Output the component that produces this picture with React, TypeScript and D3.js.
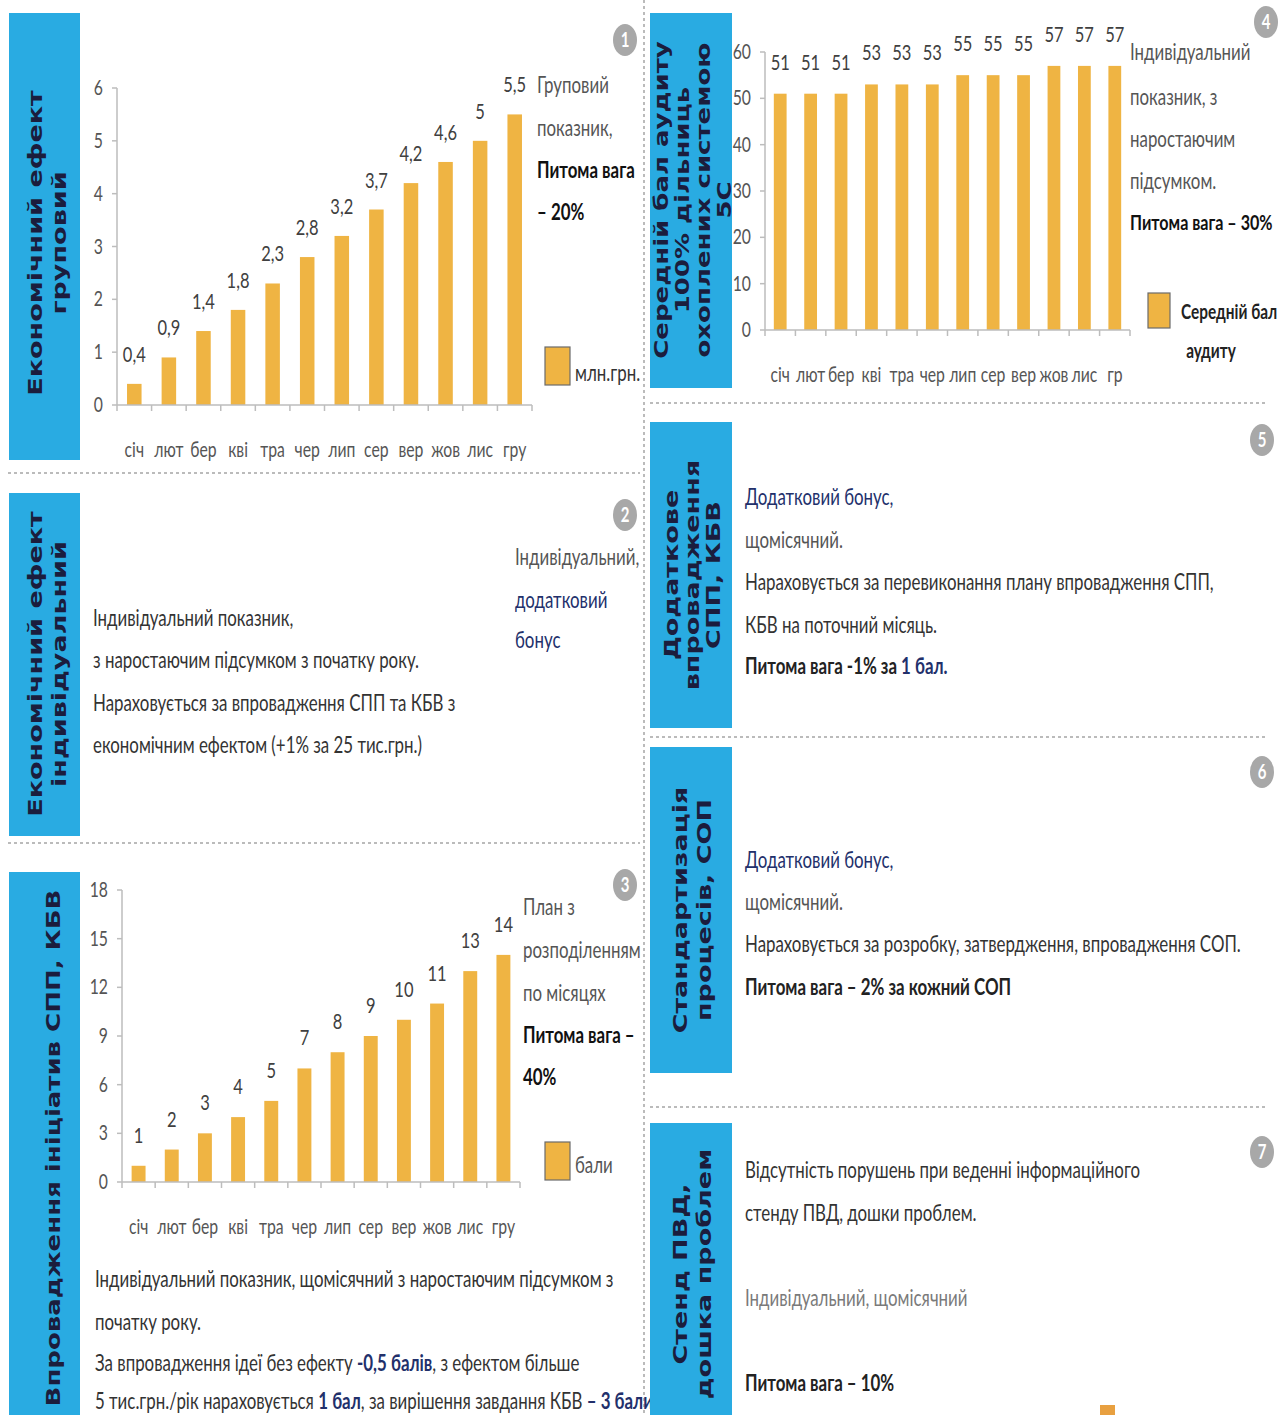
import React from "react";
import * as d3 from "d3";

// ---------- DATA ----------
const months = ["січ", "лют", "бер", "кві", "тра", "чер", "лип", "сер", "вер", "жов", "лис", "гру"];
const monthsAudit = ["січ", "лют", "бер", "кві", "тра", "чер", "лип", "сер", "вер", "жов", "лис", "гр"];
const econGroupValues = [0.4, 0.9, 1.4, 1.8, 2.3, 2.8, 3.2, 3.7, 4.2, 4.6, 5, 5.5];
const auditValues = [51, 51, 51, 53, 53, 53, 55, 55, 55, 57, 57, 57];
const sppValues = [1, 2, 3, 4, 5, 7, 8, 9, 10, 11, 13, 14];
const econTicks = [0, 1, 2, 3, 4, 5, 6];
const auditTicks = [0, 10, 20, 30, 40, 50, 60];
const sppTicks = [0, 3, 6, 9, 12, 15, 18];

// ---------- STYLE ----------
const SX = 0.75;
const TSX = 0.72;
const BLUE = "#29abe2";
const BAR = "#efb443";
const TXT = "#333333";
const NAVY = "#22306b";
const AXIS = "#bdbdbd";
const FONT = "Lato, 'Open Sans', sans-serif";
const TITLE_FONT = "'DejaVu Sans', Verdana, sans-serif";
const BODY = 22.5;
const fmtComma = (v: number) => String(v).replace(".", ",");

function T({ x, y, size = BODY, weight = 400, fill = TXT, anchor = "start", children }: any) {
  return (
    <text
      transform={`translate(${x},${y}) scale(${SX},1)`}
      fontSize={size}
      fontWeight={weight}
      fill={fill}
      textAnchor={anchor}
      fontFamily={FONT}
    >
      {children}
    </text>
  );
}

function SideBar({ x, y, w, h, cx, cy, lines, size, gap }: any) {
  const n = lines.length;
  return (
    <g>
      <rect x={x} y={y} width={w} height={h} fill={BLUE} />
      <g transform={`translate(${cx},${cy}) scale(${TSX},1) rotate(-90)`}>
        {lines.map((l: string, i: number) => (
          <text
            key={i}
            x={0}
            y={(i - (n - 1) / 2) * gap}
            dy="0.36em"
            textAnchor="middle"
            fontFamily={TITLE_FONT}
            fontWeight="bold"
            fontSize={size}
            fill="#1b1d3d"
          >
            {l}
          </text>
        ))}
      </g>
    </g>
  );
}

function Badge({ x, y, n }: any) {
  return (
    <g>
      <ellipse cx={x} cy={y} rx={12} ry={16} fill="#a8a8a8" />
      <T x={x} y={y + 7} size={20} weight={700} fill="#ffffff" anchor="middle">
        {n}
      </T>
    </g>
  );
}

function BarChart({ cats, values, ticks, x0, x1, yTop, yBottom, fmt, labelOffset }: any) {
  const x = d3.scaleBand<string>().domain(cats).range([x0, x1]).paddingInner(0.58).paddingOuter(0.29);
  const y = d3.scaleLinear().domain([ticks[0], ticks[ticks.length - 1]]).range([yBottom, yTop]);
  const bounds = cats.map((_: string, i: number) => x0 + i * ((x1 - x0) / cats.length)).concat([x1]);
  return (
    <g>
      {values.map((v: number, i: number) => (
        <rect key={i} x={x(cats[i])} y={y(v)} width={x.bandwidth()} height={yBottom - y(v)} fill={BAR} />
      ))}
      <line x1={x0} x2={x0} y1={yTop} y2={yBottom} stroke={AXIS} strokeWidth={1.5} />
      {ticks.map((t: number) => (
        <g key={t}>
          <line x1={x0 - 5} x2={x0} y1={y(t)} y2={y(t)} stroke={AXIS} strokeWidth={1.5} />
          <T x={x0 - 14} y={y(t) + 7} size={21} fill="#555" anchor="end">
            {t}
          </T>
        </g>
      ))}
      <line x1={x0} x2={x1} y1={yBottom} y2={yBottom} stroke={AXIS} strokeWidth={1.5} />
      {bounds.map((b: number, i: number) => (
        <line key={i} x1={b} x2={b} y1={yBottom} y2={yBottom + 6} stroke={AXIS} strokeWidth={1.5} />
      ))}
      {cats.map((c: string) => (
        <T key={c} x={(x(c) as number) + x.bandwidth() / 2} y={yBottom + 52} size={21} fill="#555" anchor="middle">
          {c}
        </T>
      ))}
      {values.map((v: number, i: number) => (
        <T
          key={"l" + i}
          x={(x(cats[i]) as number) + x.bandwidth() / 2}
          y={y(v) - labelOffset}
          size={22}
          fill="#404040"
          anchor="middle"
        >
          {fmt(v)}
        </T>
      ))}
    </g>
  );
}

function Dash({ x1, y1, x2, y2 }: any) {
  return <line x1={x1} y1={y1} x2={x2} y2={y2} stroke="#a5a5a5" strokeWidth={1.5} strokeDasharray="3,3" />;
}

export default function App() {
  return (
    <svg
      width={1279}
      height={1415}
      viewBox="0 0 1279 1415"
      style={{ position: "absolute", left: 0, top: 0, background: "#fff" }}
    >
      <rect x={0} y={0} width={1279} height={1415} fill="#fff" />

      {/* separators */}
      <Dash x1={644} y1={0} x2={644} y2={1415} />
      <Dash x1={8} y1={473} x2={640} y2={473} />
      <Dash x1={8} y1={843} x2={640} y2={843} />
      <Dash x1={650} y1={403} x2={1265} y2={403} />
      <Dash x1={650} y1={737} x2={1265} y2={737} />
      <Dash x1={650} y1={1107} x2={1265} y2={1107} />

      {/* ---------- Panel 1 ---------- */}
      <SideBar x={9} y={13} w={71} h={447} cx={47} cy={243} lines={["Економічний ефект", "груповий"]} size={27} gap={33} />
      <BarChart
        cats={months}
        values={econGroupValues}
        ticks={econTicks}
        x0={117}
        x1={532}
        yTop={88}
        yBottom={405}
        fmt={fmtComma}
        labelOffset={22}
      />
      <T x={537} y={93} fill="#555">Груповий</T>
      <T x={537} y={136} fill="#555">показник,</T>
      <T x={537} y={178} weight={700} fill="#111">Питома вага</T>
      <T x={537} y={220} weight={700} fill="#111">– 20%</T>
      <rect x={545} y={347} width={25} height={38} fill={BAR} stroke="#6b6b6b" strokeWidth={1.2} />
      <T x={575} y={381} fill="#333">млн.грн.</T>
      <Badge x={625} y={40} n="1" />

      {/* ---------- Panel 2 ---------- */}
      <SideBar x={9} y={493} w={71} h={343} cx={47} cy={664} lines={["Економічний ефект", "індивідуальний"]} size={27} gap={33} />
      <T x={93} y={626}>Індивідуальний показник,</T>
      <T x={93} y={668}>з наростаючим підсумком з початку року.</T>
      <T x={93} y={711}>Нараховується за впровадження СПП та КБВ з</T>
      <T x={93} y={753}>економічним ефектом (+1% за 25 тис.грн.)</T>
      <T x={515} y={565} fill="#555">Індивідуальний,</T>
      <T x={515} y={608} fill={NAVY}>додатковий</T>
      <T x={515} y={648} fill={NAVY}>бонус</T>
      <Badge x={625} y={515} n="2" />

      {/* ---------- Panel 3 ---------- */}
      <SideBar x={9} y={872} w={71} h={560} cx={53} cy={1148} lines={["Впровадження ініціатив СПП, КБВ"]} size={26} gap={30} />
      <BarChart
        cats={months}
        values={sppValues}
        ticks={sppTicks}
        x0={122}
        x1={520}
        yTop={890}
        yBottom={1182}
        fmt={(v: number) => String(v)}
        labelOffset={23}
      />
      <T x={523} y={915} fill="#555">План з</T>
      <T x={523} y={958} fill="#555">розподіленням</T>
      <T x={523} y={1001} fill="#555">по місяцях</T>
      <T x={523} y={1043} weight={700} fill="#111">Питома вага –</T>
      <T x={523} y={1085} weight={700} fill="#111">40%</T>
      <rect x={545} y={1142} width={25} height={38} fill={BAR} stroke="#6b6b6b" strokeWidth={1.2} />
      <T x={575} y={1173} fill="#555">бали</T>
      <Badge x={625} y={885} n="3" />
      <T x={95} y={1287}>Індивідуальний показник, щомісячний з наростаючим підсумком з</T>
      <T x={95} y={1330}>початку року.</T>
      <T x={95} y={1371}>
        За впровадження ідеї без ефекту <tspan fill={NAVY} fontWeight={700}>-0,5 балів</tspan>, з ефектом більше
      </T>
      <T x={95} y={1409}>
        5 тис.грн./рік нараховується <tspan fill={NAVY} fontWeight={700}>1 бал</tspan>, за вирішення завдання КБВ{" "}
        <tspan fill={NAVY} fontWeight={700}>– 3 бали</tspan>
      </T>

      {/* ---------- Panel 4 ---------- */}
      <SideBar
        x={650}
        y={13}
        w={82}
        h={375}
        cx={693}
        cy={200}
        lines={["Середній бал аудиту", "100% дільниць", "охоплених системою", "5С"]}
        size={26}
        gap={29}
      />
      <BarChart
        cats={monthsAudit}
        values={auditValues}
        ticks={auditTicks}
        x0={765}
        x1={1130}
        yTop={52}
        yBottom={330}
        fmt={(v: number) => String(v)}
        labelOffset={24}
      />
      <T x={1130} y={60} fill="#555">Індивідуальний</T>
      <T x={1130} y={105} fill="#555">показник, з</T>
      <T x={1130} y={147} fill="#555">наростаючим</T>
      <T x={1130} y={189} fill="#555">підсумком.</T>
      <T x={1130} y={230} size={21.5} weight={700} fill="#111">Питома вага – 30%</T>
      <rect x={1148} y={293} width={22} height={35} fill={BAR} stroke="#6b6b6b" strokeWidth={1.2} />
      <T x={1181} y={319} size={20.5} weight={700} fill="#222">Середній бал</T>
      <T x={1211} y={358} size={20.5} weight={700} fill="#222" anchor="middle">аудиту</T>
      <Badge x={1266} y={22} n="4" />

      {/* ---------- Panel 5 ---------- */}
      <SideBar x={650} y={422} w={82} h={306} cx={692} cy={575} lines={["Додаткове", "впровадження", "СПП, КБВ"]} size={27} gap={29} />
      <T x={745} y={505} fill={NAVY}>Додатковий бонус,</T>
      <T x={745} y={548} fill="#555">щомісячний.</T>
      <T x={745} y={590}>Нараховується за перевиконання плану впровадження  СПП,</T>
      <T x={745} y={633}>КБВ на поточний місяць.</T>
      <T x={745} y={674} weight={700} fill="#222">
        Питома вага -1% за <tspan fill={NAVY}>1 бал.</tspan>
      </T>
      <Badge x={1262} y={440} n="5" />

      {/* ---------- Panel 6 ---------- */}
      <SideBar x={650} y={747} w={82} h={326} cx={692} cy={910} lines={["Стандартизація", "процесів, СОП"]} size={27} gap={32} />
      <T x={745} y={868} fill={NAVY}>Додатковий бонус,</T>
      <T x={745} y={910} fill="#555">щомісячний.</T>
      <T x={745} y={952}>Нараховується за розробку, затвердження, впровадження СОП.</T>
      <T x={745} y={995} weight={700} fill="#222">Питома вага – 2% за кожний СОП</T>
      <Badge x={1262} y={772} n="6" />

      {/* ---------- Panel 7 ---------- */}
      <SideBar x={650} y={1123} w={82} h={300} cx={692} cy={1274} lines={["Стенд ПВД,", "дошка проблем"]} size={27} gap={32} />
      <T x={745} y={1178}>Відсутність порушень при веденні інформаційного</T>
      <T x={745} y={1221}>стенду ПВД, дошки проблем.</T>
      <T x={745} y={1306} fill="#7a7a7a">Індивідуальний, щомісячний</T>
      <T x={745} y={1391} weight={700} fill="#222">Питома вага – 10%</T>
      <Badge x={1262} y={1152} n="7" />
      <rect x={1100} y={1405} width={15} height={12} fill="#e8a040" />
    </svg>
  );
}
